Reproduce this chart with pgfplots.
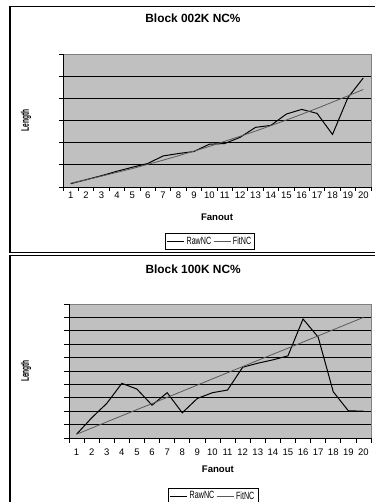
\documentclass[border=0pt]{standalone}
\usepackage{fontspec}
\setmainfont{Liberation Sans}
\newfontfamily\narrowfont[FakeStretch=0.68]{Liberation Sans}
\newfontfamily\vnarrowfont[FakeStretch=0.6]{Liberation Sans}
\usepackage{pgfplots}
\pgfplotsset{compat=1.18}
\definecolor{plotbg}{HTML}{C0C0C0}
\definecolor{fitgray}{HTML}{5A5A5A}
\definecolor{bordergray}{HTML}{808080}

\pgfplotstableread{
x raw fit
1 0.15 0.17
2 0.33 0.32
3 0.51 0.49
4 0.71 0.66
5 0.89 0.83
6 1.06 1.02
7 1.40 1.21
8 1.51 1.41
9 1.60 1.62
10 1.93 1.83
11 1.96 2.06
12 2.24 2.29
13 2.69 2.52
14 2.78 2.77
15 3.29 3.02
16 3.50 3.28
17 3.32 3.55
18 2.37 3.83
19 4.03 4.11
20 4.92 4.40
}\toptable

\pgfplotstableread{
x raw fit
1 0.28 0.28
2 1.50 0.74
3 2.58 1.20
4 4.08 1.66
5 3.65 2.12
6 2.45 2.57
7 3.38 3.03
8 1.88 3.49
9 2.95 3.95
10 3.38 4.41
11 3.58 4.87
12 5.28 5.33
13 5.58 5.79
14 5.83 6.25
15 6.13 6.70
16 8.88 7.16
17 7.53 7.62
18 3.45 8.08
19 2.03 8.54
20 2.00 9.00
}\bottable

\pgfplotsset{
 xl/.style={
  scale only axis,
  xmin=0.5, xmax=20.5, ymin=0,
  axis background/.style={fill=plotbg, draw=bordergray, line width=0.8pt},
  axis x line*=bottom, axis y line*=left,
  axis line style={black, line width=0.9pt, -},
  x axis line style={-}, y axis line style={-},
  xtick={0.5,1.5,...,20.5},
  xticklabels={1,2,3,4,5,6,7,8,9,10,11,12,13,14,15,16,17,18,19,20,{}},
  tick align=outside,
  tick style={black, line width=0.8pt},
  major tick length=4pt,
  yticklabels={},
  ymajorgrids,
  major grid style={black, line width=0.9pt},
  extra y tick style={grid=none},
  extra y tick labels={},
  tick label style={font=\fontsize{9.5}{10}\selectfont, inner sep=0pt},
  label style={font=\bfseries\fontsize{9.6}{11}\selectfont},
  ylabel style={font=\vnarrowfont\bfseries\fontsize{11}{12}\selectfont, anchor=center},
  xlabel style={anchor=center},
  title style={font=\bfseries\fontsize{11.9}{13}\selectfont, anchor=center},
  legend columns=2,
  legend style={draw=black, line width=0.6pt, fill=white, inner sep=1.5pt,
    font=\narrowfont\fontsize{10.5}{11}\selectfont, anchor=north,
    nodes={inner sep=2pt},
    /tikz/every even column/.append style={column sep=0pt}},
  legend image code/.code={\draw[#1] (0pt,0pt) -- (17pt,0pt);},
  rawst/.style={black, line width=1pt, mark=none},
  fitst/.style={fitgray, line width=0.8pt, mark=none},
 }
}

\begin{document}
\begin{tikzpicture}[x=1pt,y=1pt]
\path[use as bounding box] (0,0) rectangle (374,502);

% top chart
\begin{axis}[xl,
  at={(63pt,315pt)}, anchor=south west,
  width=308pt, height=133pt,
  ymax=6, ytick={0,...,5}, extra y ticks={6},
  xticklabel style={xshift=7.7pt, yshift=-1pt},
  title={Block 002K NC\%},
  title style={at={(axis description cs:0.422,1.226)}},
  xlabel={Fanout},
  xlabel style={at={(axis description cs:0.5,-0.226)}},
  ylabel={Length},
  ylabel style={at={(axis description cs:-0.120,0.5)}},
  legend style={at={(axis description cs:0.477,-0.346)}},
]
\addplot[rawst] table[x=x,y=raw] {\toptable};
\addplot[fitst] table[x=x,y=fit] {\toptable};
\legend{RawNC,FitNC}
\end{axis}

% bottom chart
\begin{axis}[xl,
  at={(69pt,64pt)}, anchor=south west,
  width=302pt, height=134pt,
  ymax=10, ytick={0,...,9}, extra y ticks={10},
  major tick length=5pt,
  xticklabel style={xshift=7.55pt, yshift=-5.3pt},
  title={Block 100K NC\%},
  title style={at={(axis description cs:0.411,1.211)}},
  xlabel={Fanout},
  xlabel style={at={(axis description cs:0.493,-0.231)}},
  ylabel={Length},
  ylabel style={at={(axis description cs:-0.142,0.5)}},
  legend style={at={(axis description cs:0.477,-0.371)}},
]
\addplot[rawst] table[x=x,y=raw] {\bottable};
\addplot[fitst] table[x=x,y=fit] {\bottable};
\legend{RawNC,FitNC}
\end{axis}

% outer frames
\draw[line width=1.3pt] (10,249.5) rectangle (390,495.3);
\draw[line width=1.3pt] (10,-10) rectangle (390,246.5);
\end{tikzpicture}
\end{document}
